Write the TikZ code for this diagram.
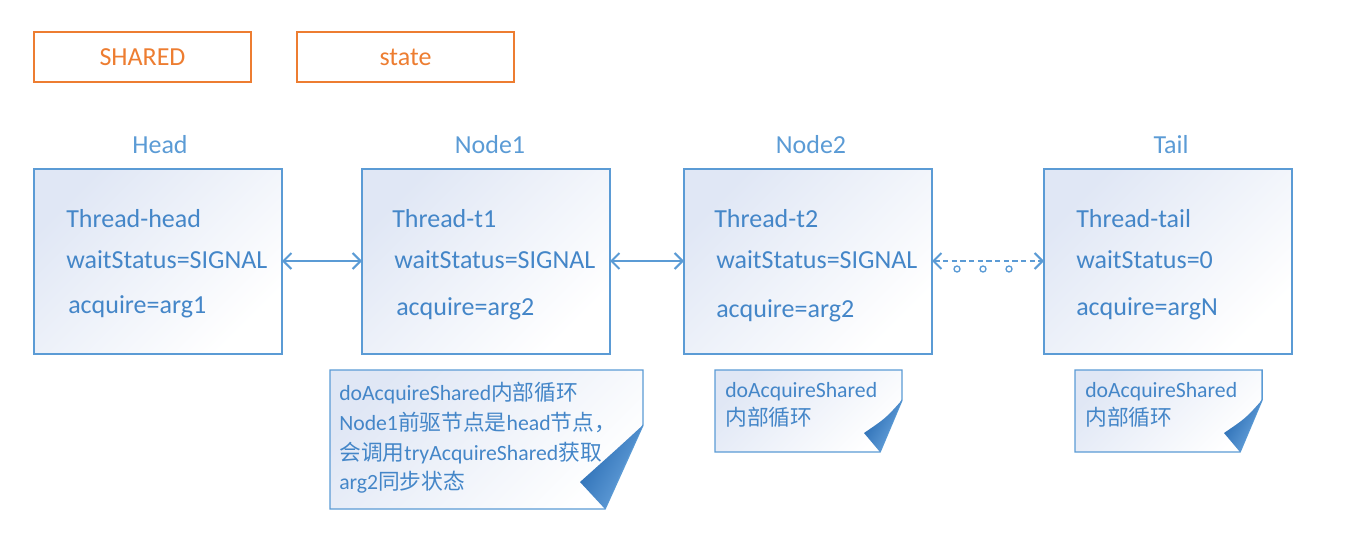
\documentclass[tikz,border=0pt]{standalone}
\usepackage{fontspec}
\setmainfont{Carlito}
\newfontfamily\cjk{Noto Sans CJK SC}
\usetikzlibrary{arrows.meta}
\definecolor{orng}{RGB}{237,125,49}
\definecolor{bl}{RGB}{91,155,213}
\definecolor{txtbl}{RGB}{68,134,200}
\definecolor{shadebl}{RGB}{224,231,245}
\definecolor{midbl}{RGB}{244,247,252}
\definecolor{darkbl}{RGB}{36,104,176}
\definecolor{lightbl}{RGB}{110,168,224}
\newcommand{\zh}[1]{{\cjk #1}}
\begin{document}
\begin{tikzpicture}[x=0.75pt,y=-0.75pt,
  bigfont/.style={font=\fontsize{19.5}{23}\selectfont},
  smallfont/.style={font=\fontsize{16.3}{20}\selectfont},
  tagbox/.style={draw=orng,line width=1.5pt,minimum width=162.75pt,minimum height=37.5pt,
    text=orng,bigfont,inner sep=0pt,outer sep=0pt},
  title/.style={text=bl,bigfont,anchor=base,inner sep=0pt},
  nodebox/.style={draw=bl,line width=1.5pt,minimum width=186pt,minimum height=138.75pt,
    top color=shadebl,middle color=midbl,bottom color=white,shading angle=45,inner sep=0pt,outer sep=0pt},
  field/.style={text=txtbl,bigfont,anchor=base west,inner sep=0pt},
  notetext/.style={text=txtbl,smallfont,anchor=base west,inner sep=0pt},
  link/.style={draw=bl,line width=1.5pt,
    {Straight Barb[length=6pt,width=12pt]}-{Straight Barb[length=6pt,width=12pt]}},
  dotlink/.style={link,dash pattern=on 4pt off 2.5pt},
  ring/.style={circle,draw=bl,line width=1pt,inner sep=0pt,minimum size=4.5pt},
  notebox/.style={draw=bl,line width=1.1pt,top color=shadebl,middle color=midbl,bottom color=white,shading angle=45},
  curl/.style={left color=darkbl,right color=lightbl,shading angle=60}
]
\useasboundingbox (0,0) rectangle (1345,550);

% top tags
\node[tagbox] (shared) at (142.5,57) {SHARED};
\node[tagbox] (state) at (405.5,57) {state};

% titles
\node[title] (thead) at (160,153) {Head};
\node[title] (tn1) at (490,153) {Node1};
\node[title] (tn2) at (811,153) {Node2};
\node[title] (ttail) at (1171,153) {Tail};

% boxes
\node[nodebox] (head) at (158,261) {};
\node[nodebox] (node1) at (486,261) {};
\node[nodebox] (node2) at (808,261) {};
\node[nodebox] (tail) at (1168,261) {};

% fields
\node[field] (h1) at (66,227) {Thread-head};
\node[field] (h2) at (66,268) {waitStatus=SIGNAL};
\node[field] (h3) at (68,313) {acquire=arg1};
\node[field] (a1) at (392,227) {Thread-t1};
\node[field] (a2) at (394,268) {waitStatus=SIGNAL};
\node[field] (a3) at (396,315) {acquire=arg2};
\node[field] (b1) at (714,227) {Thread-t2};
\node[field] (b2) at (716,268) {waitStatus=SIGNAL};
\node[field] (b3) at (716,317) {acquire=arg2};
\node[field] (t1) at (1076,227) {Thread-tail};
\node[field] (t2) at (1076,268) {waitStatus=0};
\node[field] (t3) at (1076,315) {acquire=argN};

% connectors
\draw[link] (head.east) -- (node1.west);
\draw[link] (node1.east) -- (node2.west);
\draw[dotlink] (node2.east) -- (tail.west);
\node[ring] (r1) at (957,269) {};
\node[ring] (r2) at (983,269) {};
\node[ring] (r3) at (1009,269) {};

% note 1
\draw[notebox] (330,370) -- (643,370) -- (643,425) -- (605,509) -- (330,509) -- cycle;
\path[curl] (643,425) .. controls (618,448) .. (580,482) -- (605,509) .. controls (622,470) .. (643,425) -- cycle;
\node[notetext] (n1a) at (339,400) {doAcquireShared\zh{内部循环}};
\node[notetext] (n1b) at (339,430) {Node1\zh{前驱节点是}head\zh{节点，}};
\node[notetext] (n1c) at (339,460) {\zh{会调用}tryAcquireShared\zh{获取}};
\node[notetext] (n1d) at (339,489) {arg2\zh{同步状态}};

% note 2
\draw[notebox] (715,370) -- (902,370) -- (902,400) -- (880,452) -- (715,452) -- cycle;
\path[curl] (902,400) .. controls (886,418) .. (864,433) -- (880,452) .. controls (890,428) .. (902,400) -- cycle;
\node[notetext] (n2a) at (725,397) {doAcquireShared};
\node[notetext] (n2b) at (725,425) {\zh{内部循环}};

% note 3
\draw[notebox] (1075,370) -- (1262,370) -- (1262,400) -- (1240,452) -- (1075,452) -- cycle;
\path[curl] (1262,400) .. controls (1246,418) .. (1224,433) -- (1240,452) .. controls (1250,428) .. (1262,400) -- cycle;
\node[notetext] (n3a) at (1085,397) {doAcquireShared};
\node[notetext] (n3b) at (1085,425) {\zh{内部循环}};
\end{tikzpicture}
\end{document}
